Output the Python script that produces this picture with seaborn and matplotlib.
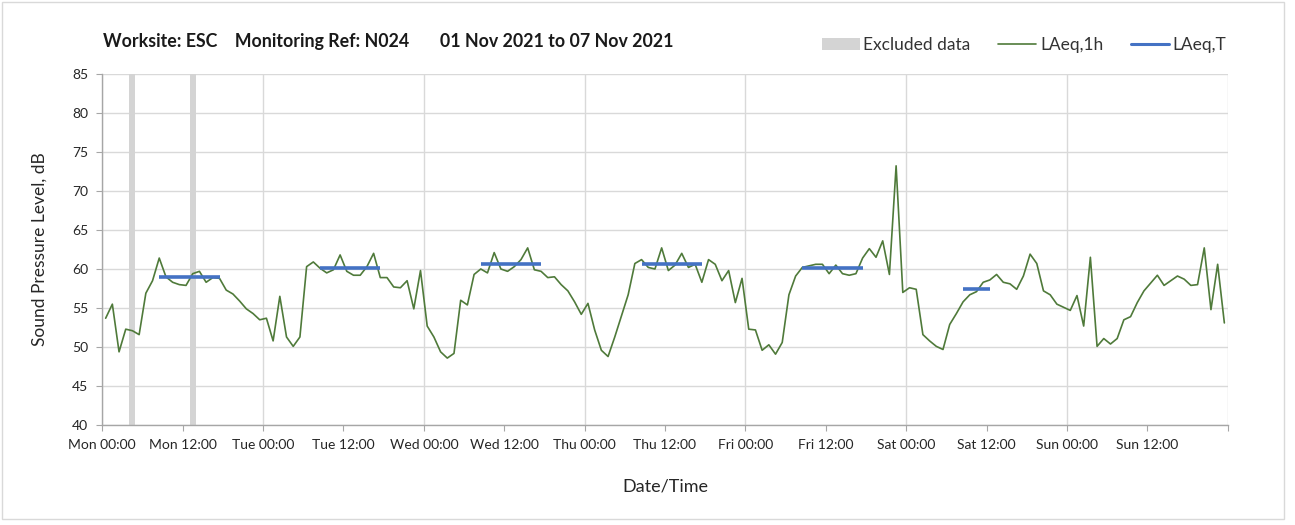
import numpy as np
import pandas as pd
import matplotlib
matplotlib.use('Agg')
import matplotlib.pyplot as plt
import seaborn as sns
from matplotlib.patches import Patch, Rectangle
from matplotlib.lines import Line2D

# ── data ─────────────────────────────────────────────────
# hourly LAeq,1h, Mon 00:00 .. Sun 23:00 (168 values)
laeq_1h = [
    53.7, 55.5, 49.4, 52.3, 52.1, 51.6, 56.9, 58.5, 61.4, 59.0, 58.3, 58.0,
    57.9, 59.4, 59.7, 58.3, 58.9, 58.8, 57.3, 56.8, 55.9, 54.9, 54.3, 53.5,
    53.7, 50.8, 56.5, 51.3, 50.1, 51.3, 60.3, 60.9, 60.1, 59.5, 59.9, 61.8,
    59.7, 59.2, 59.2, 60.3, 62.0, 58.9, 58.9, 57.7, 57.6, 58.5, 54.9, 59.8,
    52.7, 51.3, 49.4, 48.6, 49.2, 56.0, 55.4, 59.3, 60.0, 59.5, 62.1, 60.0,
    59.7, 60.3, 61.2, 62.7, 59.9, 59.7, 58.9, 59.0, 58.0, 57.2, 55.8, 54.2,
    55.6, 52.2, 49.6, 48.8, 51.3, 54.0, 56.7, 60.7, 61.2, 60.2, 60.0, 62.7,
    59.8, 60.5, 62.0, 60.2, 60.6, 58.3, 61.2, 60.6, 58.5, 59.8, 55.7, 58.8,
    52.3, 52.2, 49.6, 50.3, 49.1, 50.6, 56.7, 59.1, 60.2, 60.4, 60.6, 60.6,
    59.4, 60.5, 59.4, 59.2, 59.4, 61.4, 62.6, 61.5, 63.6, 59.3, 73.2, 57.0,
    57.6, 57.4, 51.6, 50.8, 50.1, 49.7, 52.9, 54.3, 55.8, 56.7, 57.1, 58.3,
    58.6, 59.3, 58.3, 58.1, 57.4, 59.1, 61.9, 60.7, 57.2, 56.7, 55.5, 55.1,
    54.7, 56.6, 52.7, 61.5, 50.1, 51.1, 50.4, 51.1, 53.5, 53.9, 55.7, 57.2,
    58.2, 59.2, 57.9, 58.5, 59.1, 58.7, 57.9, 58.0, 62.7, 54.8, 60.6, 53.1,
]

# LAeq,T periods (first hour, last hour, level)
period_start = [8, 32, 56, 80, 104, 128]
period_end = [17, 41, 65, 89, 113, 132]
period_level = [59.0, 60.1, 60.6, 60.7, 60.1, 57.5]

excluded_hours = [4, 13]

day_names = ['Mon', 'Tue', 'Wed', 'Thu', 'Fri', 'Sat', 'Sun']

GREEN = '#4F7A3A'
BLUE = '#4472C4'
BAND = '#D4D4D4'
GRID = '#D9D9D9'
AXIS = '#A6A6A6'
FONT = ['Lato', 'DejaVu Sans']

sns.set_theme(style='white')
plt.rcParams['font.family'] = FONT

df = pd.DataFrame({'hour': np.arange(len(laeq_1h)) + 0.5, 'level': laeq_1h})

fig = plt.figure(figsize=(12.95, 5.25), dpi=100)
ax = fig.add_axes([102.3 / 1295, 1 - 425.3 / 525, (1227.7 - 102.3) / 1295, (425.3 - 73.6) / 525])

# excluded periods
for h in excluded_hours:
    ax.axvspan(h + 0.05, h + 0.95, color=BAND, lw=0, zorder=1)

sns.lineplot(data=df, x='hour', y='level', ax=ax, color=GREEN, lw=1.2, zorder=3)

for s, e, v in zip(period_start, period_end, period_level):
    ax.hlines(v, s + 0.5, e + 0.5, color=BLUE, lw=2.6, zorder=4)

ax.set_xlim(0, 168)
ax.set_ylim(40, 85)

major = np.arange(0, 169, 24)
minor = np.arange(12, 168, 24)
ax.set_xticks(major)
ax.set_xticklabels([f'{d} 00:00' for d in day_names] + [''])
ax.set_xticks(minor, minor=True)
ax.set_xticklabels([f'{d} 12:00' for d in day_names], minor=True)
ax.set_yticks(np.arange(40, 86, 5))

ax.grid(True, axis='both', which='major', color=GRID, lw=1.0)
ax.set_axisbelow(True)
for sp in ['top', 'right']:
    ax.spines[sp].set_visible(False)
for sp in ['left', 'bottom']:
    ax.spines[sp].set_color(AXIS)
    ax.spines[sp].set_linewidth(1.0)

ax.tick_params(axis='both', which='both', direction='out', length=4, width=0.8,
               color=AXIS, labelsize=10, labelcolor='#262626', pad=6, bottom=True, left=True)

ax.set_xlabel('Date/Time', fontsize=13, color='#262626', labelpad=20)
ax.set_ylabel('Sound Pressure Level, dB', fontsize=12.5, color='#262626', labelpad=18)

fig.text(103 / 1295, 1 - 42 / 525, 'Worksite: ESC    Monitoring Ref: N024       01 Nov 2021 to 07 Nov 2021',
         fontsize=12.8, fontweight='bold', color='#1a1a1a', va='center', ha='left')

handles = [Patch(facecolor=BAND, edgecolor='none'),
           Line2D([], [], color=GREEN, lw=1.2),
           Line2D([], [], color=BLUE, lw=2.2)]
fig.legend(handles, ['Excluded data', 'LAeq,1h', 'LAeq,T'], ncol=3, frameon=False,
           loc='center right', bbox_to_anchor=(1242 / 1295, 1 - 45 / 525),
           fontsize=12.5, handlelength=2.2, handletextpad=0.2, columnspacing=1.6,
           labelcolor='#333333')

fig.patches.append(Rectangle((2 / 1295, 6 / 525), 1282 / 1295, 517 / 525, transform=fig.transFigure,
                             fill=False, edgecolor='#D9D9D9', lw=1.0))

fig.savefig('out.png', dpi=100)
